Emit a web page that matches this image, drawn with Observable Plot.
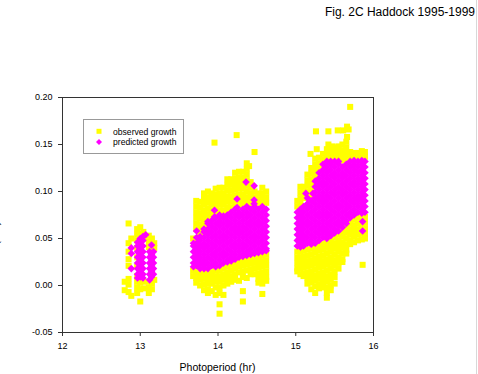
<!DOCTYPE html>
<html><head><meta charset="utf-8">
<script src="https://cdn.jsdelivr.net/npm/d3@7"></script>
<script src="https://cdn.jsdelivr.net/npm/@observablehq/plot@0.6"></script>
<style>
body{margin:0;background:#fff;font-family:"Liberation Sans",Arial,sans-serif;}
#wrap{position:relative;width:478px;height:374px;overflow:hidden;background:#fff;}
#wrap svg.plot{position:absolute;left:0;top:0;}
#over{position:absolute;left:0;top:0;pointer-events:none;}
#edge{position:absolute;left:476px;top:0;width:1px;height:374px;background:#d8d8d8;}
</style></head>
<body><div id="wrap"></div>
<script>
// Tick values
const xTicks = [12, 13, 14, 15, 16];
const yTicks = [-0.05, 0.00, 0.05, 0.10, 0.15, 0.20];

// Observed growth: [photoperiod (hr), [growth values]]
const observedCols = [
  [12.80, [0.004, -0.005]],
  [12.85, [0.066, 0.045, 0.036, 0.028, 0.021, 0.007, 0.001, -0.007]],
  [12.885, [-0.011, 0.050]],
  [12.96, [0.060, 0.054, 0.048, 0.040, 0.030, 0.020, 0.010, 0.004, -0.002, -0.008]],
  [13.00, [0.062, 0.055, 0.003, -0.004, -0.017]],
  [13.04, [0.057, 0.050, 0.004, -0.003]],
  [13.11, [0.053, 0.047, 0.041, 0.004, -0.002, -0.008]],
  [13.15, [0.050, 0.044, 0.002, -0.004]],
  [13.18, [0.045, 0.040, 0.006]],
  [13.68, [0.050, 0.016, 0.010]],
  [13.72, [0.090, 0.084, 0.078, 0.072, 0.066, 0.060, 0.014, 0.008, 0.003]],
  [13.77, [0.089, 0.083, 0.077, 0.071, 0.065, 0.059, 0.055, 0.012, 0.006, 0.000]],
  [13.82, [0.098, 0.092, 0.086, 0.080, 0.074, 0.068, 0.064, 0.013, 0.007, 0.001, -0.005]],
  [13.87, [0.100, 0.094, 0.088, 0.082, 0.076, 0.072, 0.014, 0.008, 0.002, -0.004, -0.008]],
  [13.92, [0.098, 0.092, 0.086, 0.080, 0.076, 0.014, 0.008, 0.002, -0.006]],
  [13.955, [0.152]],
  [13.97, [0.103, 0.097, 0.091, 0.085, 0.079, 0.016, 0.010, 0.004, -0.002, -0.010]],
  [14.02, [0.104, 0.098, 0.092, 0.086, 0.080, 0.077, 0.016, 0.010, 0.004, -0.002, -0.008, -0.020, -0.030]],
  [14.07, [0.104, 0.098, 0.092, 0.086, 0.080, 0.018, 0.012, 0.006, 0.000, -0.010]],
  [14.12, [0.113, 0.107, 0.101, 0.095, 0.089, 0.083, 0.079, 0.020, 0.014, 0.008, 0.002]],
  [14.17, [0.113, 0.107, 0.101, 0.095, 0.089, 0.083, 0.022, 0.016, 0.010, 0.004]],
  [14.22, [0.120, 0.114, 0.108, 0.102, 0.096, 0.090, 0.084, 0.024, 0.018, 0.012, 0.006]],
  [14.24, [0.160]],
  [14.27, [0.121, 0.115, 0.109, 0.103, 0.097, 0.091, 0.085, 0.026, 0.020, 0.014, 0.005]],
  [14.32, [0.121, 0.115, 0.109, 0.103, 0.097, 0.091, 0.085, 0.027, 0.021, 0.015, 0.009, -0.006, -0.017]],
  [14.37, [0.130, 0.124, 0.118, 0.112, 0.106, 0.100, 0.094, 0.088, 0.028, 0.022, 0.016, 0.008]],
  [14.40, [0.127]],
  [14.42, [0.110, 0.104, 0.098, 0.092, 0.086, 0.029, 0.023, 0.017, 0.012]],
  [14.47, [0.142, 0.100, 0.094, 0.088, 0.030, 0.024, 0.018, 0.012]],
  [14.52, [0.098, 0.092, 0.088, 0.031, 0.025, 0.019, 0.013, 0.007, 0.003]],
  [14.57, [0.104, 0.098, 0.092, 0.088, 0.032, 0.026, 0.020, 0.014, 0.008, 0.002, -0.009]],
  [14.62, [0.100, 0.094, 0.088, 0.033, 0.027, 0.021, 0.015, 0.009, 0.005]],
  [15.02, [0.090, 0.084, 0.036, 0.030, 0.024, 0.018, 0.015]],
  [15.06, [0.105, 0.099, 0.093, 0.087, 0.036, 0.030, 0.024, 0.018, 0.012]],
  [15.10, [0.105, 0.099, 0.093, 0.037, 0.031, 0.025, 0.019, 0.013, 0.010]],
  [15.15, [0.118, 0.112, 0.106, 0.100, 0.094, 0.038, 0.032, 0.026, 0.020, 0.014, 0.008, 0.002]],
  [15.19, [0.140]],
  [15.20, [0.125, 0.119, 0.113, 0.107, 0.101, 0.096, 0.039, 0.033, 0.027, 0.021, 0.015, 0.009, 0.003, -0.004]],
  [15.25, [0.135, 0.129, 0.123, 0.117, 0.113, 0.041, 0.035, 0.029, 0.023, 0.017, 0.011, 0.005, -0.001, -0.008]],
  [15.26, [0.164]],
  [15.27, [0.145]],
  [15.30, [0.136, 0.130, 0.124, 0.043, 0.037, 0.031, 0.025, 0.019, 0.013, 0.007, 0.001, -0.003]],
  [15.35, [0.140, 0.134, 0.044, 0.038, 0.032, 0.026, 0.020, 0.014, 0.008, 0.002, -0.002]],
  [15.40, [0.145, 0.139, 0.135, 0.046, 0.040, 0.034, 0.028, 0.022, 0.016, 0.010, 0.004, -0.002, -0.008, -0.013]],
  [15.42, [0.164, 0.150]],
  [15.45, [0.146, 0.140, 0.136, 0.048, 0.042, 0.036, 0.030, 0.024, 0.018, 0.012, 0.006, 0.000, -0.005]],
  [15.47, [0.148]],
  [15.50, [0.147, 0.141, 0.136, 0.051, 0.045, 0.039, 0.033, 0.027, 0.021, 0.015, 0.009, 0.002]],
  [15.54, [0.165]],
  [15.55, [0.148, 0.142, 0.137, 0.054, 0.048, 0.042, 0.036, 0.030, 0.024, 0.018]],
  [15.60, [0.150, 0.144, 0.138, 0.133, 0.058, 0.052, 0.046, 0.040, 0.034, 0.028, 0.025]],
  [15.61, [0.165]],
  [15.65, [0.153, 0.147, 0.141, 0.135, 0.062, 0.056, 0.050, 0.044, 0.038, 0.034]],
  [15.66, [0.169, 0.158]],
  [15.68, [0.166]],
  [15.70, [0.190, 0.142, 0.137, 0.066, 0.060, 0.054, 0.048, 0.044]],
  [15.75, [0.141, 0.137, 0.070, 0.064, 0.058, 0.052, 0.046]],
  [15.80, [0.141, 0.138, 0.072, 0.066, 0.060, 0.054, 0.048]],
  [15.85, [0.143, 0.138, 0.073, 0.067, 0.061, 0.055, 0.049]],
  [15.86, [0.022]],
  [15.89, [0.142, 0.137, 0.073, 0.067, 0.061, 0.055, 0.050]]
];

// Predicted growth: [photoperiod (hr), [growth values]]
const predictedCols = [
  [12.885, [0.040, 0.034, 0.018]],
  [12.965, [0.046, 0.042, 0.036, 0.030, 0.024, 0.018, 0.012, 0.008]],
  [13.00, [0.050, 0.045, 0.039, 0.033, 0.027, 0.021, 0.015, 0.009]],
  [13.035, [0.052, 0.048, 0.042, 0.036, 0.030, 0.024, 0.018, 0.012, 0.008]],
  [13.07, [0.054]],
  [13.12, [0.036, 0.030, 0.024, 0.018, 0.012, 0.006]],
  [13.145, [0.043, 0.033, 0.027, 0.021, 0.015, 0.009]],
  [13.17, [0.036, 0.030, 0.024, 0.018, 0.012]],
  [13.685, [0.045, 0.042, 0.036, 0.030, 0.024, 0.020]],
  [13.725, [0.058, 0.051, 0.045, 0.039, 0.033, 0.027, 0.021]],
  [13.77, [0.052, 0.048, 0.042, 0.036, 0.030, 0.024, 0.018]],
  [13.82, [0.060, 0.057, 0.051, 0.045, 0.039, 0.033, 0.027, 0.021, 0.018]],
  [13.87, [0.068, 0.066, 0.060, 0.054, 0.048, 0.042, 0.036, 0.030, 0.024, 0.018]],
  [13.92, [0.069, 0.063, 0.057, 0.051, 0.045, 0.039, 0.033, 0.027, 0.021]],
  [13.955, [0.080, 0.073]],
  [13.97, [0.072, 0.066, 0.060, 0.054, 0.048, 0.042, 0.036, 0.030, 0.024, 0.020]],
  [14.02, [0.075, 0.069, 0.063, 0.057, 0.051, 0.045, 0.039, 0.033, 0.027, 0.021]],
  [14.07, [0.074, 0.072, 0.066, 0.060, 0.054, 0.048, 0.042, 0.036, 0.030, 0.024]],
  [14.12, [0.075, 0.069, 0.063, 0.057, 0.051, 0.045, 0.039, 0.033, 0.027, 0.025]],
  [14.17, [0.078, 0.072, 0.066, 0.060, 0.054, 0.048, 0.042, 0.036, 0.030, 0.026]],
  [14.22, [0.081, 0.075, 0.069, 0.063, 0.057, 0.051, 0.045, 0.039, 0.033, 0.028]],
  [14.245, [0.092, 0.083]],
  [14.27, [0.078, 0.072, 0.066, 0.060, 0.054, 0.048, 0.042, 0.036, 0.030]],
  [14.32, [0.081, 0.075, 0.069, 0.063, 0.057, 0.051, 0.045, 0.039, 0.033, 0.031]],
  [14.36, [0.110]],
  [14.37, [0.084, 0.078, 0.072, 0.066, 0.060, 0.054, 0.048, 0.042, 0.036, 0.032]],
  [14.42, [0.081, 0.075, 0.069, 0.063, 0.057, 0.051, 0.045, 0.039, 0.033]],
  [14.465, [0.106, 0.091, 0.087]],
  [14.47, [0.084, 0.078, 0.072, 0.066, 0.060, 0.054, 0.048, 0.042, 0.036, 0.034]],
  [14.52, [0.081, 0.075, 0.069, 0.063, 0.057, 0.051, 0.045, 0.039, 0.035]],
  [14.57, [0.084, 0.078, 0.072, 0.066, 0.060, 0.054, 0.048, 0.042, 0.036]],
  [14.62, [0.081, 0.075, 0.069, 0.063, 0.057, 0.051, 0.045, 0.039, 0.037]],
  [15.02, [0.078, 0.072, 0.066, 0.060, 0.054, 0.048, 0.042]],
  [15.06, [0.081, 0.075, 0.069, 0.063, 0.057, 0.051, 0.045, 0.041]],
  [15.10, [0.084, 0.078, 0.072, 0.066, 0.060, 0.054, 0.048, 0.042]],
  [15.13, [0.098]],
  [15.15, [0.093, 0.087, 0.081, 0.075, 0.069, 0.063, 0.057, 0.051, 0.045]],
  [15.20, [0.090, 0.084, 0.078, 0.072, 0.066, 0.060, 0.054, 0.048, 0.044]],
  [15.22, [0.098]],
  [15.25, [0.111, 0.105, 0.099, 0.093, 0.087, 0.081, 0.075, 0.069, 0.063, 0.057, 0.051, 0.045]],
  [15.30, [0.120, 0.114, 0.108, 0.102, 0.096, 0.090, 0.084, 0.078, 0.072, 0.066, 0.060, 0.054, 0.048]],
  [15.35, [0.129, 0.123, 0.117, 0.111, 0.105, 0.099, 0.093, 0.087, 0.081, 0.075, 0.069, 0.063, 0.057, 0.051]],
  [15.40, [0.132, 0.126, 0.120, 0.114, 0.108, 0.102, 0.096, 0.090, 0.084, 0.078, 0.072, 0.066, 0.060, 0.054, 0.050]],
  [15.45, [0.132, 0.129, 0.123, 0.117, 0.111, 0.105, 0.099, 0.093, 0.087, 0.081, 0.075, 0.069, 0.063, 0.057, 0.053]],
  [15.50, [0.132, 0.126, 0.120, 0.114, 0.108, 0.102, 0.096, 0.090, 0.084, 0.078, 0.072, 0.066, 0.060, 0.056]],
  [15.55, [0.132, 0.129, 0.123, 0.117, 0.111, 0.105, 0.099, 0.093, 0.087, 0.081, 0.075, 0.069, 0.063, 0.058]],
  [15.60, [0.126, 0.120, 0.114, 0.108, 0.102, 0.096, 0.090, 0.084, 0.078, 0.072, 0.066, 0.062]],
  [15.65, [0.129, 0.123, 0.117, 0.111, 0.105, 0.099, 0.093, 0.087, 0.081, 0.075, 0.069, 0.066]],
  [15.70, [0.132, 0.126, 0.120, 0.114, 0.108, 0.102, 0.096, 0.090, 0.084, 0.078, 0.072]],
  [15.75, [0.133, 0.129, 0.123, 0.117, 0.111, 0.105, 0.099, 0.093, 0.087, 0.081, 0.075]],
  [15.80, [0.132, 0.126, 0.120, 0.114, 0.108, 0.102, 0.096, 0.090, 0.084, 0.078]],
  [15.85, [0.133, 0.129, 0.123, 0.117, 0.111, 0.105, 0.099, 0.093, 0.087, 0.081, 0.077]],
  [15.86, [0.068, 0.058]],
  [15.89, [0.132, 0.126, 0.120, 0.114, 0.108, 0.102, 0.096, 0.090, 0.084, 0.078]]
];

const observed = observedCols.flatMap(([x, ys]) => ys.map(y => ({x, y})));
const predicted = predictedCols.flatMap(([x, ys]) => ys.map(y => ({x, y})));

// A square-rotated diamond (equal width and height)
const diamond = {
  draw(ctx, size) {
    const r = Math.sqrt(size / Math.PI);
    ctx.moveTo(0, -r); ctx.lineTo(r, 0); ctx.lineTo(0, r); ctx.lineTo(-r, 0); ctx.closePath();
  }
};

const chart = Plot.plot({
  width: 478, height: 374,
  marginLeft: 62, marginRight: 105, marginTop: 97, marginBottom: 42,
  style: {fontFamily: "'Liberation Sans', Arial, sans-serif", fontSize: "9px", color: "#000", background: "transparent"},
  x: {domain: [12, 16]},
  y: {domain: [-0.05, 0.20]},
  marks: [
    Plot.dot(observed, {x: "x", y: "y", symbol: "square", r: 3.4, fill: "#ffff00"}),
    Plot.dot(predicted, {x: "x", y: "y", symbol: diamond, r: 3.8, fill: "#ff00ff"}),
    Plot.frame({stroke: "#333"}),
    Plot.axisX({ticks: xTicks, tickSize: 4, tickPadding: 6, tickFormat: d => String(d), label: null, stroke: "#333"}),
    Plot.axisY({ticks: yTicks, tickSize: 4, tickPadding: 6, tickFormat: d => d.toFixed(2), label: null, stroke: "#333"})
  ]
});
chart.classList.add("plot");
const wrap = document.getElementById("wrap");
wrap.appendChild(chart);

// Overlay: title, x label, y label (cut off at the left edge as in the original), legend
const ns = "http://www.w3.org/2000/svg";
const over = document.createElementNS(ns, "svg");
over.setAttribute("id", "over");
over.setAttribute("width", 478);
over.setAttribute("height", 374);
over.style.fontFamily = "'Liberation Sans', Arial, sans-serif";
over.innerHTML = `
  <text x="475" y="16" text-anchor="end" font-size="12" fill="#000">Fig. 2C Haddock 1995-1999</text>
  <text x="217.5" y="370.5" text-anchor="middle" font-size="10.5" fill="#000">Photoperiod (hr)</text>
  <text transform="translate(-1,221.5) rotate(-90)" text-anchor="end" font-size="11" fill="#000">Growth rate (d-1)</text>
  <rect x="83.5" y="119.5" width="100" height="34" fill="#fff" stroke="#999" stroke-width="1"/>
  <rect x="96.5" y="128.8" width="5" height="5" fill="#ffff00"/>
  <path d="M99,139 L102,142 L99,145 L96,142 Z" fill="#ff00ff"/>
  <text x="113" y="134.5" font-size="8.6" fill="#000">observed growth</text>
  <text x="113" y="145.3" font-size="8.6" fill="#000">predicted growth</text>
`;
wrap.appendChild(over);
const edge = document.createElement("div");
edge.id = "edge";
wrap.appendChild(edge);
</script>
</body></html>
